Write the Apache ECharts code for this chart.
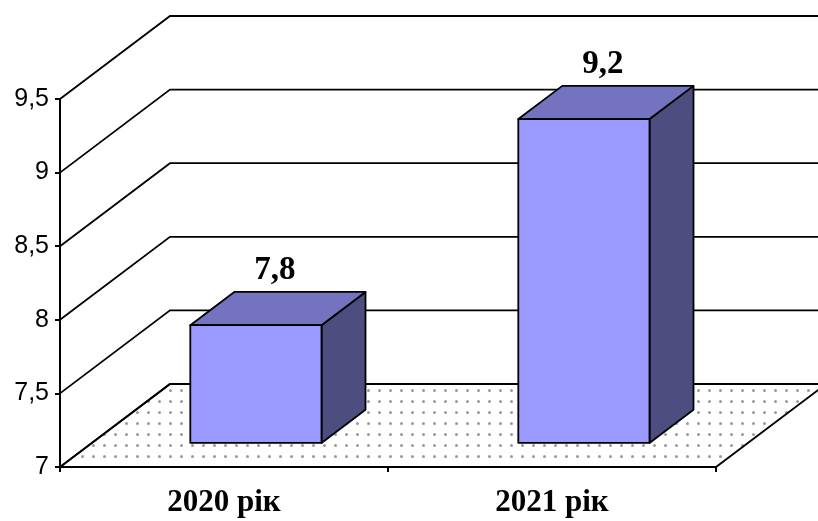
<!DOCTYPE html>
<html>
<head>
<meta charset="utf-8">
<script src="https://cdn.jsdelivr.net/npm/echarts@6/dist/echarts.min.js"></script>
<style>
  html, body { margin: 0; padding: 0; background: #fff; }
  #chart { width: 818px; height: 521px; }
</style>
</head>
<body>
<div id="chart"></div>
<script>
// Chart data
const categories = ['2020 рік', '2021 рік'];
const values = [7.8, 9.2];
const yTicks = [7, 7.5, 8, 8.5, 9, 9.5];

// Oblique depth of the 3D box (pixels of full floor depth)
const DEPTH_X = 110;
const DEPTH_Y = -83;
const BAR_FRONT = 0.29;   // bar front face position as a share of floor depth
const BAR_DEPTH = 0.40;   // bar depth as a share of floor depth
const BAR_WIDTH = 0.40;   // bar width as a share of category band

const fmt = v => String(v).replace('.', ',');

// Dotted floor pattern
const patternCanvas = document.createElement('canvas');
patternCanvas.width = 11;
patternCanvas.height = 11;
(function () {
  const ctx = patternCanvas.getContext('2d');
  ctx.fillStyle = '#fff';
  ctx.fillRect(0, 0, 11, 11);
  ctx.fillStyle = '#9a9a9a';
  ctx.beginPath();
  ctx.arc(5.5, 5.5, 1.5, 0, Math.PI * 2);
  ctx.fill();
})();

const chart = echarts.init(document.getElementById('chart'), null, { renderer: 'canvas' });

const option = {
  backgroundColor: '#ffffff',
  animation: false,
  grid: { left: 60, right: 102, top: 99, bottom: 54 },
  xAxis: {
    type: 'category',
    data: categories,
    axisLine: { show: true, lineStyle: { color: '#000', width: 2 } },
    axisTick: { show: true, length: 5, lineStyle: { color: '#000', width: 2 } },
    axisLabel: {
      margin: 20,
      color: '#000',
      fontFamily: '"Liberation Serif", "Times New Roman", serif',
      fontWeight: 'bold',
      fontSize: 31
    },
    splitLine: { show: false }
  },
  yAxis: {
    type: 'value',
    min: 7,
    max: 9.5,
    interval: 0.5,
    axisLine: { show: true, lineStyle: { color: '#000', width: 2 } },
    axisTick: { show: true, length: 5, lineStyle: { color: '#000', width: 2 } },
    axisLabel: {
      margin: 11,
      color: '#000',
      fontFamily: '"Liberation Sans", Arial, sans-serif',
      fontSize: 25,
      formatter: v => fmt(v)
    },
    splitLine: { show: false }
  },
  series: [
    {
      // floor of the 3D box
      type: 'custom',
      clip: false,
      silent: true,
      z: 1,
      data: [[0, yTicks[0]]],
      renderItem: function (params, api) {
        const cs = params.coordSys;
        const y0 = api.coord([0, api.value(1)])[1];
        const xl = cs.x, xr = cs.x + cs.width;
        return {
          type: 'polygon',
          shape: {
            points: [
              [xl, y0], [xr, y0],
              [xr + DEPTH_X, y0 + DEPTH_Y], [xl + DEPTH_X, y0 + DEPTH_Y]
            ]
          },
          style: {
            fill: { image: patternCanvas, repeat: 'repeat' },
            stroke: '#000',
            lineWidth: 1.8
          }
        };
      }
    },
    {
      // side-wall diagonals and back-wall gridlines
      type: 'custom',
      clip: false,
      silent: true,
      z: 2,
      data: yTicks.map(v => [0, v]),
      renderItem: function (params, api) {
        const cs = params.coordSys;
        const y = api.coord([0, api.value(1)])[1];
        const xl = cs.x, xr = cs.x + cs.width;
        return {
          type: 'polyline',
          shape: {
            points: [
              [xl, y],
              [xl + DEPTH_X, y + DEPTH_Y],
              [xr + DEPTH_X, y + DEPTH_Y]
            ]
          },
          style: { stroke: '#000', lineWidth: 1.8, fill: null }
        };
      }
    },
    {
      // 3D bars
      type: 'custom',
      clip: false,
      z: 3,
      data: values.map((v, i) => [i, v]),
      renderItem: function (params, api) {
        const idx = api.value(0);
        const val = api.value(1);
        const top = api.coord([idx, val]);
        const base = api.coord([idx, yTicks[0]]);
        const band = api.size([1, 0])[0];
        const w = band * BAR_WIDTH;
        const fx = DEPTH_X * BAR_FRONT, fy = DEPTH_Y * BAR_FRONT;
        const dx = DEPTH_X * BAR_DEPTH, dy = DEPTH_Y * BAR_DEPTH;
        const x0 = top[0] - w / 2 + fx;
        const x1 = x0 + w;
        const yt = top[1] + fy;
        const yb = base[1] + fy;
        const edge = { stroke: '#000', lineWidth: 1.8, lineJoin: 'round' };
        return {
          type: 'group',
          children: [
            {
              type: 'polygon',
              shape: { points: [[x1, yt], [x1, yb], [x1 + dx, yb + dy], [x1 + dx, yt + dy]] },
              style: Object.assign({ fill: '#4d4d80' }, edge)
            },
            {
              type: 'polygon',
              shape: { points: [[x0, yt], [x1, yt], [x1 + dx, yt + dy], [x0 + dx, yt + dy]] },
              style: Object.assign({ fill: '#7373bf' }, edge)
            },
            {
              type: 'rect',
              shape: { x: x0, y: yt, width: w, height: yb - yt },
              style: Object.assign({ fill: '#9999ff' }, edge)
            },
            {
              type: 'text',
              x: x0 + w / 2 + dx / 2 - 3,
              y: yt + dy - 5,
              style: {
                text: fmt(val),
                fill: '#000',
                font: 'bold 33px "Liberation Serif", "Times New Roman", serif',
                align: 'center',
                verticalAlign: 'bottom'
              }
            }
          ]
        };
      }
    }
  ]
};

chart.setOption(option);
</script>
</body>
</html>
